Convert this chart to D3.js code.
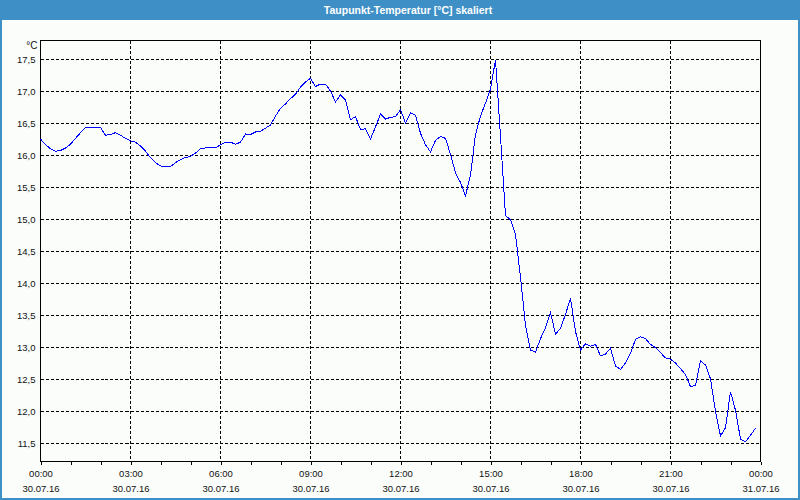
<!DOCTYPE html>
<html>
<head>
<meta charset="utf-8">
<script src="https://cdn.jsdelivr.net/npm/d3@7"></script>
<style>
body{margin:0;background:#fff}
svg{display:block}
</style>
</head>
<body>
<svg width="800" height="500"></svg>
<script>
const title = 'Taupunkt-Temperatur [°C] skaliert'
const unit = '°C'
const startTime = new Date(2016, 6, 30, 0, 0)
const endTime = new Date(2016, 6, 31, 0, 0)
const stepMinutes = 10

// Taupunkt, alle 10 Minuten ab 00:00
const dewPoint = [
  16.26, 16.17, 16.11, 16.07, 16.08, 16.12, 16.18, 16.27, 16.36, 16.44, 16.44, 16.44,
  16.44, 16.32, 16.33, 16.36, 16.32, 16.27, 16.23, 16.21, 16.15, 16.07, 15.97, 15.89,
  15.84, 15.83, 15.83, 15.89, 15.94, 15.97, 15.99, 16.04, 16.11, 16.12, 16.12, 16.12,
  16.17, 16.21, 16.21, 16.18, 16.21, 16.34, 16.33, 16.37, 16.38, 16.43, 16.48, 16.62,
  16.74, 16.81, 16.89, 16.96, 17.07, 17.15, 17.21, 17.08, 17.12, 17.12, 17.01, 16.84,
  16.95, 16.87, 16.56, 16.61, 16.41, 16.42, 16.26, 16.45, 16.65, 16.57, 16.60, 16.61,
  16.72, 16.51, 16.67, 16.63, 16.35, 16.17, 16.06, 16.24, 16.30, 16.27, 16.02, 15.73,
  15.58, 15.37, 15.70, 16.33, 16.62, 16.82, 17.04, 17.50, 16.30, 15.06, 15.00, 14.77,
  14.10, 13.35, 12.96, 12.93, 13.14, 13.31, 13.55, 13.21, 13.30, 13.52, 13.77, 13.25,
  12.96, 13.06, 13.02, 13.05, 12.87, 12.90, 12.99, 12.71, 12.66, 12.76, 12.91, 13.13,
  13.17, 13.14, 13.05, 13.00, 12.92, 12.84, 12.82, 12.76, 12.67, 12.58, 12.39, 12.41,
  12.79, 12.73, 12.51, 12.00, 11.62, 11.75, 12.31, 12.02, 11.57, 11.53, 11.63, 11.74
]

const yTicks = [11.5, 12.0, 12.5, 13.0, 13.5, 14.0, 14.5, 15.0, 15.5, 16.0, 16.5, 17.0, 17.5]
const yDomain = [11.22, 17.8]

const svg = d3.select('svg')
const width = +svg.attr('width')
const height = +svg.attr('height')
const fontFamily = '"Liberation Sans", Arial, sans-serif'

const render = data => {
    const margin = {top:40, left:40, right:40, bottom:39}
    const innerWidth = width - margin.left - margin.right
    const innerHeight = height - margin.top - margin.bottom

    // Fensterrahmen
    svg.append('rect').attr('width', width).attr('height', height).attr('fill', '#fbfdfb')
    svg.append('rect').attr('width', width).attr('height', 20).attr('fill', '#3d8fc6')
    svg.append('path')
        .attr('d', `M1,20V${height-1}H${width-1}V20`)
        .attr('fill', 'none').attr('stroke', '#3d8fc6').attr('stroke-width', 2)
    svg.append('text')
        .attr('x', 408).attr('y', 14)
        .attr('text-anchor', 'middle')
        .attr('fill', 'white')
        .style('font', `bold 10.5px ${fontFamily}`)
        .text(title)

    const time = i => d3.timeMinute.offset(startTime, i * stepMinutes)

    const xScale = d3.scaleTime()
                    .domain([startTime, endTime])
                    .range([0, innerWidth])

    const yScale = d3.scaleLinear()
                    .domain(yDomain)
                    .range([innerHeight, 0])

    const g = svg.append('g')
                .attr('transform', `translate(${margin.left + 0.5},${margin.top + 0.5})`)

    // Gitter
    const major = d3.timeHour.every(3).range(startTime, endTime).slice(1)
    g.append('g').selectAll('line.v')
        .data(major).enter().append('line')
        .attr('x1', d => Math.round(xScale(d))).attr('x2', d => Math.round(xScale(d)))
        .attr('y1', 0).attr('y2', innerHeight)
    g.append('g').selectAll('line.h')
        .data(yTicks).enter().append('line')
        .attr('x1', 0).attr('x2', innerWidth)
        .attr('y1', d => Math.round(yScale(d))).attr('y2', d => Math.round(yScale(d)))
    g.selectAll('line')
        .attr('stroke', 'black').attr('stroke-dasharray', '3,2')
        .attr('shape-rendering', 'crispEdges')

    // Achsen
    const xAxis = g.append('g')
        .attr('transform', `translate(0,${innerHeight})`)
        .call(d3.axisBottom(xScale)
            .ticks(d3.timeHour.every(1))
            .tickSize(3)
            .tickFormat(''))
    xAxis.select('.domain').remove()

    const xLabels = g.append('g')
        .attr('transform', `translate(0,${innerHeight})`)
        .call(d3.axisBottom(xScale)
            .tickValues(d3.timeHour.every(3).range(startTime, d3.timeMinute.offset(endTime, 1)))
            .tickSize(0)
            .tickPadding(9)
            .tickFormat(d3.timeFormat('%H:%M')))
    xLabels.select('.domain').remove()
    xLabels.selectAll('.tick').append('text')
        .attr('fill', 'currentColor')
        .attr('y', 24).attr('dy', '0.71em')
        .text(d3.timeFormat('%d.%m.%y'))

    const yAxis = g.append('g')
        .call(d3.axisLeft(yScale)
            .tickValues(yTicks)
            .tickSize(0)
            .tickPadding(5)
            .tickFormat(d => d3.format('.1f')(d).replace('.', ',')))
    yAxis.select('.domain').remove()

    svg.selectAll('.tick text')
        .style('font', `9.5px ${fontFamily}`)
        .attr('fill', '#111')
    svg.selectAll('.tick line').attr('shape-rendering', 'crispEdges')

    g.append('text')
        .attr('x', -3).attr('y', 8)
        .attr('text-anchor', 'end')
        .style('font', `10px ${fontFamily}`)
        .attr('fill', '#111')
        .text(unit)

    // Rahmen
    g.append('rect')
        .attr('width', innerWidth).attr('height', innerHeight)
        .attr('fill', 'none').attr('stroke', 'black')
        .attr('shape-rendering', 'crispEdges')

    // Kurve
    g.append('path')
        .datum(data)
        .attr('fill', 'none')
        .attr('stroke', '#0000ff')
        .attr('stroke-width', 1)
        .attr('shape-rendering', 'crispEdges')
        .attr('d', d3.line().x((d, i) => xScale(time(i))).y(d => yScale(d)))
}

render(dewPoint)
</script>
</body>
</html>
